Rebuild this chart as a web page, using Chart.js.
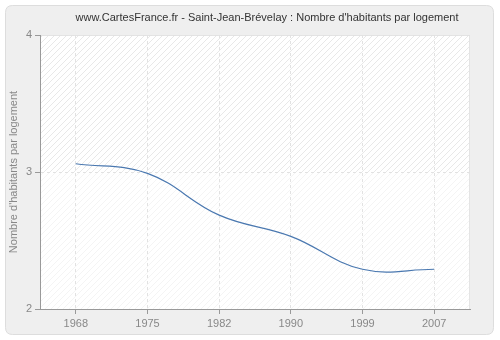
<!DOCTYPE html>
<html><head><meta charset="utf-8">
<script src="https://cdn.jsdelivr.net/npm/chart.js@4/dist/chart.umd.min.js"></script>
<style>html,body{margin:0;padding:0;background:#fff}#wrap{width:500px;height:340px}</style>
</head><body><div id="wrap"><canvas id="c" width="500" height="340"></canvas></div>
<script>
const titleText = "www.CartesFrance.fr - Saint-Jean-Brévelay : Nombre d'habitants par logement";
const yAxisTitle = "Nombre d'habitants par logement";
const years = ["1968", "1975", "1982", "1990", "1999", "2007"];
const habitantsParLogement = [3.06, 2.99, 2.685, 2.53, 2.29, 2.29];
const yTicks = [2, 3, 4];

const FONT = "'Liberation Sans', Arial, sans-serif";

function makeHatch(lineColor) {
  const p = document.createElement('canvas');
  p.width = 6; p.height = 6;
  const g = p.getContext('2d');
  g.fillStyle = '#ffffff';
  g.fillRect(0, 0, 6, 6);
  g.fillStyle = lineColor;
  for (let i = 0; i < 6; i++) g.fillRect(i, 5 - i, 1, 1);
  return p;
}

const bgPlugin = {
  id: 'bg',
  beforeDraw(chart) {
    const ctx = chart.ctx;
    ctx.save();
    ctx.fillStyle = '#ffffff';
    ctx.fillRect(0, 0, chart.width, chart.height);
    const x = 5.5, y = 5.5, w = 488, h = 329, r = 7;
    ctx.beginPath();
    ctx.moveTo(x + r, y);
    ctx.lineTo(x + w - r, y); ctx.quadraticCurveTo(x + w, y, x + w, y + r);
    ctx.lineTo(x + w, y + h - r); ctx.quadraticCurveTo(x + w, y + h, x + w - r, y + h);
    ctx.lineTo(x + r, y + h); ctx.quadraticCurveTo(x, y + h, x, y + h - r);
    ctx.lineTo(x, y + r); ctx.quadraticCurveTo(x, y, x + r, y);
    ctx.closePath();
    ctx.fillStyle = '#efefef';
    ctx.fill();
    ctx.strokeStyle = '#dddddd';
    ctx.lineWidth = 1;
    ctx.stroke();

    const a = chart.chartArea;
    const ys = chart.scales.y;
    const mid = ys.getPixelForValue(3);
    ctx.fillStyle = ctx.createPattern(makeHatch('#e8e8e8'), 'repeat');
    ctx.fillRect(a.left, a.top, a.right - a.left, mid - a.top);
    ctx.fillStyle = ctx.createPattern(makeHatch('#f4f4f4'), 'repeat');
    ctx.fillRect(a.left, mid, a.right - a.left, a.bottom - mid);
    ctx.strokeStyle = '#e4e4e4';
    ctx.beginPath();
    ctx.moveTo(a.left, a.top + 0.5); ctx.lineTo(a.right - 0.5, a.top + 0.5); ctx.lineTo(a.right - 0.5, a.bottom);
    ctx.stroke();

    ctx.fillStyle = '#333333';
    ctx.font = "11px " + FONT;
    ctx.textAlign = 'center';
    ctx.textBaseline = 'middle';
    ctx.fillText(titleText, 267, 18);
    ctx.restore();
  }
};

new Chart(document.getElementById('c'), {
  type: 'line',
  data: {
    labels: years,
    datasets: [{
      data: habitantsParLogement,
      borderColor: '#4a78b0',
      borderWidth: 1.2,
      pointRadius: 0,
      fill: false,
      tension: 0.4
    }]
  },
  options: {
    responsive: false,
    animation: false,
    devicePixelRatio: 1,
    layout: { padding: { left: 0, right: 30, top: 35, bottom: 6 } },
    plugins: {
      legend: { display: false },
      tooltip: { enabled: false },
      title: { display: false }
    },
    scales: {
      x: {
        type: 'category',
        offset: true,
        grid: { color: '#e2e2e2', tickLength: 5, tickColor: '#999999', offset: false },
        border: { color: '#999999', dash: [3, 3] },
        ticks: { color: '#888888', font: { family: FONT, size: 11 }, padding: 3, maxRotation: 0 },
        afterFit(s) { s.height = 25; }
      },
      y: {
        min: 2, max: 4,
        afterBuildTicks(s) { s.ticks = yTicks.map(v => ({ value: v })); },
        grid: { color: '#e2e2e2', tickLength: 5, tickColor: '#999999' },
        border: { color: '#999999', dash: [3, 3] },
        ticks: { color: '#888888', font: { family: FONT, size: 11 }, padding: 3 },
        title: { display: true, text: yAxisTitle, color: '#888888', font: { family: FONT, size: 11 }, padding: { top: 7, bottom: 0 } },
        afterFit(s) { s.width = 40; }
      }
    }
  },
  plugins: [bgPlugin]
});
</script>
</body></html>
